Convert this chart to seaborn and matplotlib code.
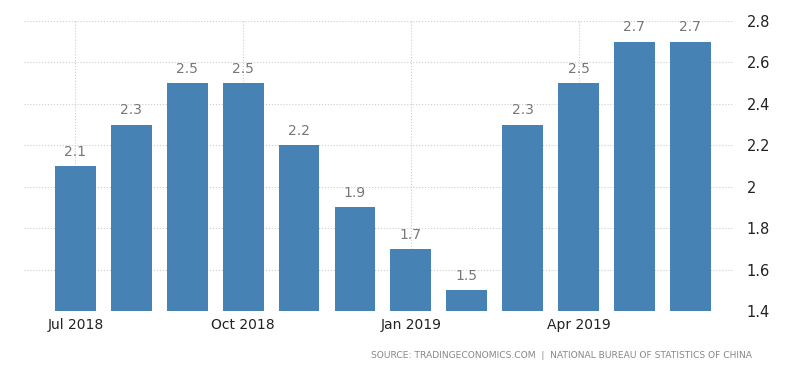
import matplotlib
matplotlib.use("Agg")
from matplotlib import pyplot as plt
import seaborn as sns

# data
months = ["Jul 2018", "Aug 2018", "Sep 2018", "Oct 2018", "Nov 2018", "Dec 2018",
          "Jan 2019", "Feb 2019", "Mar 2019", "Apr 2019", "May 2019", "Jun 2019"]
values = [2.1, 2.3, 2.5, 2.5, 2.2, 1.9, 1.7, 1.5, 2.3, 2.5, 2.7, 2.7]
tick_labels = ["Jul 2018", "Oct 2018", "Jan 2019", "Apr 2019"]
y_ticks = [1.4, 1.6, 1.8, 2.0, 2.2, 2.4, 2.6, 2.8]
y_tick_labels = ["1.4", "1.6", "1.8", "2", "2.2", "2.4", "2.6", "2.8"]
source = "SOURCE: TRADINGECONOMICS.COM  |  NATIONAL BUREAU OF STATISTICS OF CHINA"

sns.set_style("white")
plt.rcParams['font.family'] = ['DejaVu Sans']

fig = plt.figure(figsize=(8, 3.73), dpi=100)
ax = fig.add_axes([0.03, 0.166, 0.886, 0.778])

sns.barplot(x=months, y=values, color="#4682b4", saturation=1, width=0.73,
            linewidth=0, ax=ax, zorder=3)

ax.set_ylim(1.4, 2.8)
ax.set_xlim(-0.92, 11.76)

# value labels over bars
for i, v in enumerate(values):
    ax.text(i, v + 0.035, f"{v:g}", ha="center", va="bottom", fontsize=10, color="#777777", zorder=4)

ax.set_xticks([months.index(m) for m in tick_labels])
ax.set_xticklabels(tick_labels, fontsize=10, color="#222222")
ax.yaxis.tick_right()
ax.set_yticks(y_ticks)
ax.set_yticklabels(y_tick_labels, fontsize=10.5, color="#222222")
ax.tick_params(axis="y", length=0, pad=10)
ax.tick_params(axis="x", length=3, color="#cccccc", pad=2)

ax.grid(True, axis="both", linestyle=":", color="#cccccc", linewidth=0.8, zorder=0)
for s in ax.spines.values():
    s.set_visible(False)
ax.set_xlabel("")
ax.set_ylabel("")

fig.text(0.94, 0.035, source, ha="right", va="bottom", fontsize=6.6, color="#888888")

fig.savefig("out.png", dpi=100)
